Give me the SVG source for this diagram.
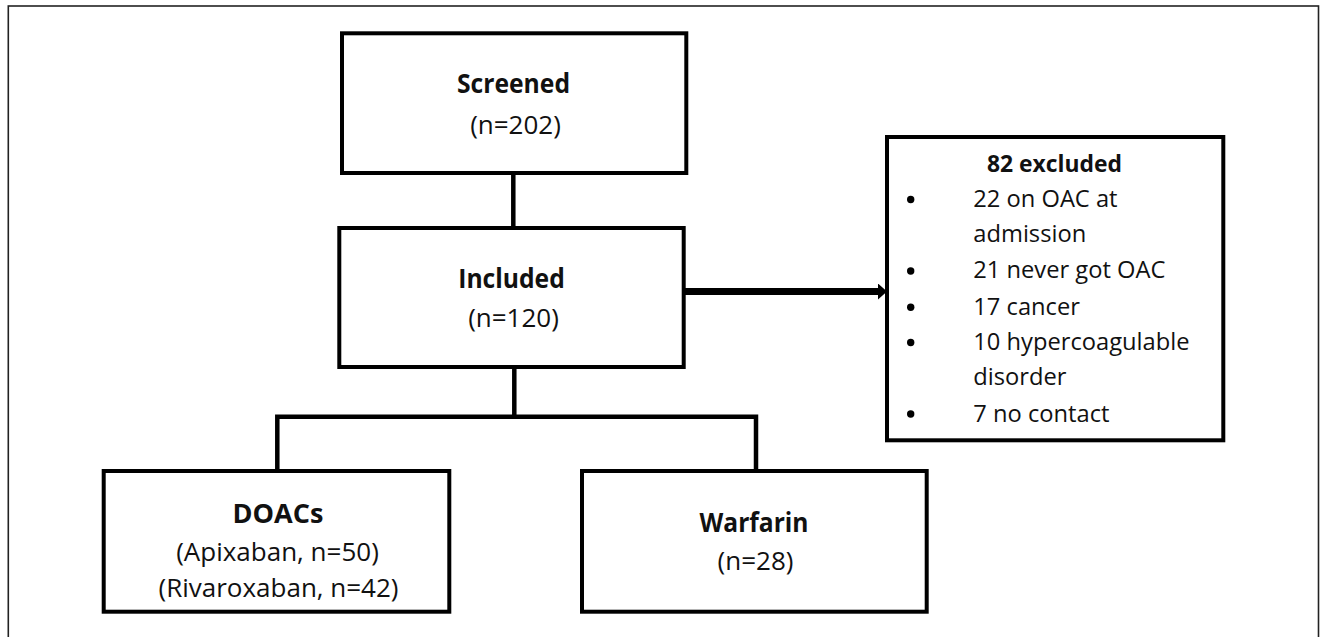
<svg xmlns="http://www.w3.org/2000/svg" width="1320" height="637" viewBox="0 0 1320 637">
  <defs>
    <style>
      .frame { fill: none; stroke: #222; stroke-width: 1.6; }
      .box { fill: #fff; stroke: #000; stroke-width: 4; }
      .conn { fill: none; stroke: #000; stroke-width: 4.5; stroke-linejoin: miter; }
      .arrow { fill: none; stroke: #000; stroke-width: 7; }
      text { font-family: "Open Sans", "Noto Sans", "Liberation Sans", sans-serif; fill: #111; }
      .t { font-size: 26px; text-anchor: middle; }
      .tb { font-size: 26px; font-weight: bold; text-anchor: middle; }
      .lb { font-size: 23.5px; font-weight: bold; text-anchor: middle; }
      .li { font-size: 23.7px; }
      .dot { fill: #000; }
    </style>
    <marker id="ah" markerUnits="userSpaceOnUse" markerWidth="9" markerHeight="16" viewBox="0 0 9 16" refX="0" refY="8" orient="auto">
      <path d="M0,0 L9,8 L0,16 z" fill="#000"/>
    </marker>
  </defs>

  <rect class="frame" x="8.3" y="6" width="1310.2" height="640"/>

  <g id="connectors">
    <path class="conn" d="M513.3,173 V228"/>
    <path class="conn" d="M514.3,367 V416.7"/>
    <path class="conn" d="M277.3,471 V416.7 H756 V471"/>
    <path class="arrow" d="M684,291.5 H878" marker-end="url(#ah)"/>
  </g>

  <g id="screened">
    <rect class="box" x="342" y="33.3" width="344.3" height="139.7"/>
    <text class="tb" x="513.5" y="93.3" textLength="113" lengthAdjust="spacingAndGlyphs">Screened</text>
    <text class="t" x="515.5" y="134">(n=202)</text>
  </g>

  <g id="included">
    <rect class="box" x="339.3" y="228" width="344.4" height="139"/>
    <text class="tb" x="511.5" y="288.3" textLength="106.5" lengthAdjust="spacingAndGlyphs">Included</text>
    <text class="t" x="513.5" y="326.7">(n=120)</text>
  </g>

  <g id="excluded">
    <rect class="box" x="887" y="137" width="336.3" height="303.3"/>
    <text class="lb" x="1054.5" y="171.7" textLength="135" lengthAdjust="spacingAndGlyphs">82 excluded</text>
    <circle class="dot" cx="910.7" cy="199.5" r="3.7"/>
    <text class="li" x="973.3" y="206.7">22 on OAC at</text>
    <text class="li" x="973.3" y="241.7">admission</text>
    <circle class="dot" cx="910.7" cy="271" r="3.7"/>
    <text class="li" x="973.3" y="278.3">21 never got OAC</text>
    <circle class="dot" cx="910.7" cy="307.3" r="3.7"/>
    <text class="li" x="973.3" y="315">17 cancer</text>
    <circle class="dot" cx="910.7" cy="342.5" r="3.7"/>
    <text class="li" x="973.3" y="350">10 hypercoagulable</text>
    <text class="li" x="973.3" y="385">disorder</text>
    <circle class="dot" cx="910.7" cy="414" r="3.7"/>
    <text class="li" x="973.3" y="421.7">7 no contact</text>
  </g>

  <g id="doacs">
    <rect class="box" x="103.7" y="471" width="345.6" height="140.7"/>
    <text class="tb" x="278" y="523.3" textLength="91" lengthAdjust="spacingAndGlyphs">DOACs</text>
    <text class="t" x="277.5" y="561">(Apixaban, n=50)</text>
    <text class="t" x="278.5" y="597.3">(Rivaroxaban, n=42)</text>
  </g>

  <g id="warfarin">
    <rect class="box" x="582" y="471" width="344.7" height="140.7"/>
    <text class="tb" x="754" y="531.7" textLength="109" lengthAdjust="spacingAndGlyphs">Warfarin</text>
    <text class="t" x="755.5" y="570">(n=28)</text>
  </g>
</svg>
